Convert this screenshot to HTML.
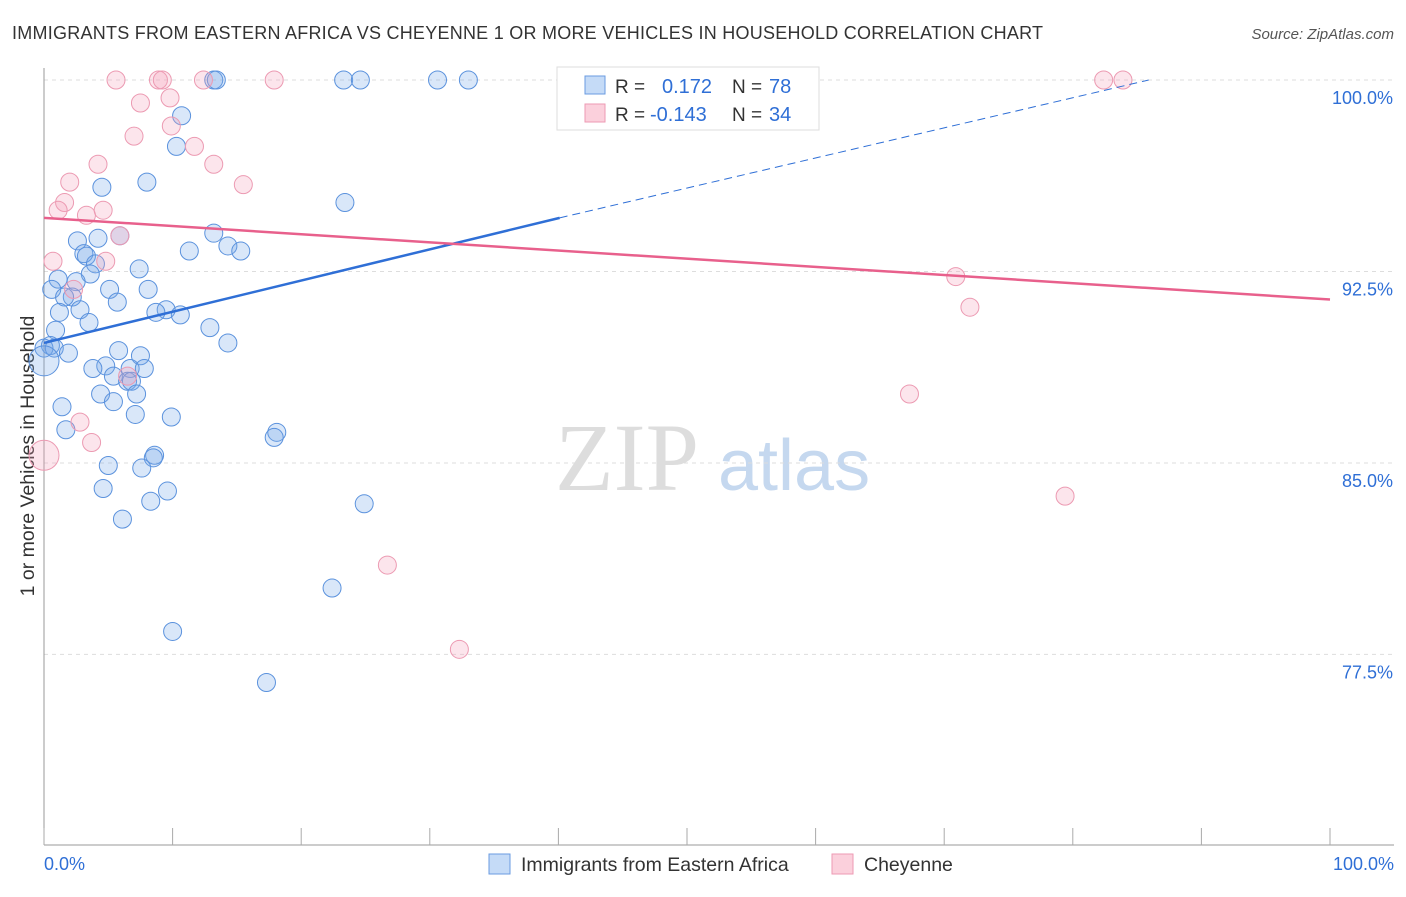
<!DOCTYPE html>
<html><head><meta charset="utf-8"><style>
body{margin:0;background:#fff;font-family:"Liberation Sans",sans-serif;}
</style></head><body>
<svg id="chart" width="1406" height="892" xmlns="http://www.w3.org/2000/svg" font-family="Liberation Sans, sans-serif">
<text x="12" y="39" font-size="18" fill="#333" textLength="1031" lengthAdjust="spacing">IMMIGRANTS FROM EASTERN AFRICA VS CHEYENNE 1 OR MORE VEHICLES IN HOUSEHOLD CORRELATION CHART</text>
<text x="1394" y="39" font-size="15" fill="#555" text-anchor="end" font-style="italic">Source: ZipAtlas.com</text>
<text x="555" y="490" font-size="96" fill="#ddd" font-family="Liberation Serif, serif">ZIP</text>
<text x="718" y="490" font-size="72" fill="#c5d8ef">atlas</text>
<text transform="translate(34,456) rotate(-90)" font-size="19.5" fill="#333" text-anchor="middle">1 or more Vehicles in Household</text>
<g id="grid"></g><g id="pts"></g><g id="lines"></g>
<g>
<rect x="557" y="67" width="262" height="63" fill="#fff" stroke="#ddd"/>
<rect x="585" y="76" width="20" height="18" fill="#c5dbf7" stroke="#6a9be0"/>
<rect x="585" y="104" width="20" height="18" fill="#fbd0dc" stroke="#ee9ab3"/>
<text x="615" y="93" font-size="19" fill="#333">R =</text><text x="662" y="93" font-size="20" fill="#2f6fd6">0.172</text>
<text x="732" y="93" font-size="19" fill="#333">N =</text><text x="769" y="93" font-size="20" fill="#2f6fd6">78</text>
<text x="615" y="121" font-size="19" fill="#333">R =</text><text x="650" y="121" font-size="20" fill="#2f6fd6">-0.143</text>
<text x="732" y="121" font-size="19" fill="#333">N =</text><text x="769" y="121" font-size="20" fill="#2f6fd6">34</text>
</g>
<g>
<rect x="489" y="854" width="21" height="20" fill="#c5dbf7" stroke="#6a9be0"/>
<text x="521" y="871" font-size="19.5" fill="#333">Immigrants from Eastern Africa</text>
<rect x="832" y="854" width="21" height="20" fill="#fbd0dc" stroke="#ee9ab3"/>
<text x="864" y="871" font-size="19.5" fill="#333">Cheyenne</text>
</g>
<text x="44" y="870" font-size="18" fill="#2f6fd6">0.0%</text>
<text x="1394" y="870" font-size="18" fill="#2f6fd6" text-anchor="end">100.0%</text>
</svg>
<script>
const yTicks=[100,92.5,85,77.5];
const yTickLabels=["100.0%","92.5%","85.0%","77.5%"];
const blueX=[13.2,13.4,23.3,24.6,30.6,33.0,10.7,10.3,8.0,4.5,23.4,5.9,2.6,4.2,13.2,14.3,15.3,11.3,3.1,3.3,4.0,3.6,7.4,1.1,2.5,0.6,5.1,8.1,2.2,1.6,5.7,9.5,2.8,8.7,10.6,1.2,3.5,12.9,0.9,14.3,0.5,0,0.8,1.9,5.8,7.5,0,4.8,3.8,6.7,7.8,5.4,6.5,6.8,4.4,7.2,5.4,1.4,7.1,9.9,1.7,18.1,17.9,8.6,8.5,5.0,7.6,4.6,9.6,8.3,24.9,6.1,22.4,10.0,17.3];
const blueY=[100,100,100,100,100,100,98.6,97.4,96.0,95.8,95.2,93.9,93.7,93.8,94.0,93.5,93.3,93.3,93.2,93.1,92.8,92.4,92.6,92.2,92.1,91.8,91.8,91.8,91.5,91.5,91.3,91.0,91.0,90.9,90.8,90.9,90.5,90.3,90.2,89.7,89.6,89.5,89.5,89.3,89.4,89.2,89.0,88.8,88.7,88.7,88.7,88.4,88.2,88.2,87.7,87.7,87.4,87.2,86.9,86.8,86.3,86.2,86.0,85.3,85.2,84.9,84.8,84.0,83.9,83.5,83.4,82.8,80.1,78.4,76.4];
const blueR=[9,9,9,9,9,9,9,9,9,9,9,9,9,9,9,9,9,9,9,9,9,9,9,9,9,9,9,9,9,9,9,9,9,9,9,9,9,9,9,9,9,9,9,9,9,9,15,9,9,9,9,9,9,9,9,9,9,9,9,9,9,9,9,9,9,9,9,9,9,9,9,9,9,9,9];
const pinkX=[5.6,8.9,9.2,12.4,17.9,82.4,83.9,9.8,7.5,9.9,7.0,11.7,4.2,13.2,2.0,15.5,1.6,1.1,3.3,4.6,5.9,4.8,0.7,2.3,70.9,72.0,6.5,2.8,3.7,0,67.3,79.4,26.7,32.3];
const pinkY=[100,100,100,100,100,100,100,99.3,99.1,98.2,97.8,97.4,96.7,96.7,96.0,95.9,95.2,94.9,94.7,94.9,93.9,92.9,92.9,91.8,92.3,91.1,88.4,86.6,85.8,85.3,87.7,83.7,81.0,77.7];
const pinkR=[9,9,9,9,9,9,9,9,9,9,9,9,9,9,9,9,9,9,9,9,9,9,9,9,9,9,9,9,9,15,9,9,9,9];
const blueTrend=[[0,89.7],[40.1,94.6],[85.9,100.0]];
const pinkTrend=[[0,94.6],[100,91.4]];
const X0=44,X1=1330,Y100=80,PX=25.53;
const sx=v=>X0+(X1-X0)*v/100, sy=v=>Y100+(100-v)*PX;
const NS="http://www.w3.org/2000/svg";
function mk(t,a,p){const e=document.createElementNS(NS,t);for(const k in a)e.setAttribute(k,a[k]);p.appendChild(e);return e;}
const svg=document.getElementById('chart'),grid=document.getElementById('grid');
yTicks.forEach((t,i)=>{
 const l=mk('line',{x1:X0,x2:1394,y1:sy(t),y2:sy(t),stroke:'#ddd','stroke-dasharray':'4,4'},grid);
 
 
 const tx=mk('text',{x:1393,y:sy(t)+24,'font-size':18,fill:'#2f6fd6','text-anchor':'end'},grid);
 tx.textContent=yTickLabels[i];
 
 
});
const ax=mk('line',{x1:X0,x2:X0,y1:68,y2:845,stroke:'#999'},grid);


const bx=mk('line',{x1:X0,x2:1394,y1:845,y2:845,stroke:'#999'},grid);


for(let i=0;i<=10;i++){const t=mk('line',{x1:sx(i*10),x2:sx(i*10),y1:828,y2:845,stroke:'#aaa'},grid);
 
 }
const pts=document.getElementById('pts');
blueX.forEach((x,i)=>{const c=mk('circle',{cx:sx(x),cy:sy(blueY[i]),r:blueR[i],fill:'rgba(120,170,235,0.28)',stroke:'#5b92dd','stroke-width':1},pts);
 
 });
pinkX.forEach((x,i)=>{const c=mk('circle',{cx:sx(x),cy:sy(pinkY[i]),r:pinkR[i],fill:'rgba(245,160,185,0.28)',stroke:'#ec9ab2','stroke-width':1},pts);
 
 });
const lines=document.getElementById('lines');
const b1=mk('line',{x1:sx(blueTrend[0][0]),y1:sy(blueTrend[0][1]),x2:sx(blueTrend[1][0]),y2:sy(blueTrend[1][1]),stroke:'#2f6fd6','stroke-width':2.5},lines);


const b2=mk('line',{x1:sx(blueTrend[1][0]),y1:sy(blueTrend[1][1]),x2:sx(blueTrend[2][0]),y2:sy(blueTrend[2][1]),stroke:'#2f6fd6','stroke-width':1,'stroke-dasharray':'8,5'},lines);


const p1=mk('line',{x1:sx(pinkTrend[0][0]),y1:sy(pinkTrend[0][1]),x2:sx(pinkTrend[1][0]),y2:sy(pinkTrend[1][1]),stroke:'#e8608c','stroke-width':2.5},lines);


</script>
</body></html>
